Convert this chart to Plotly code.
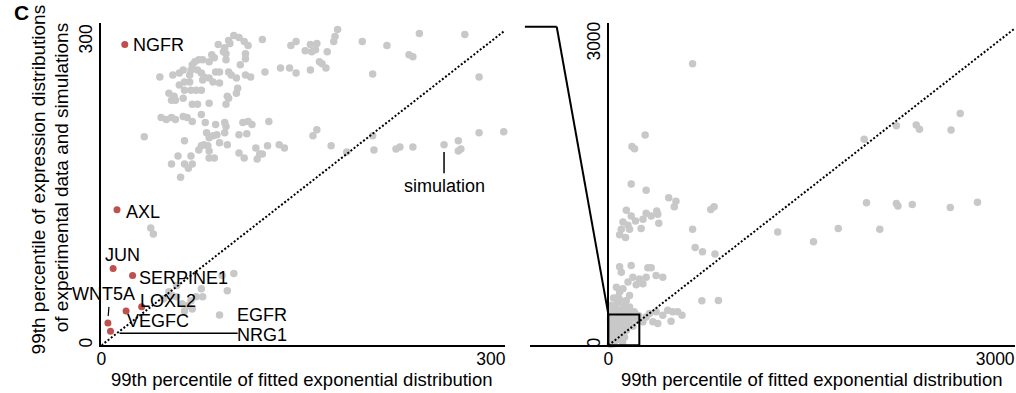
import plotly.graph_objects as go

# ---------------- data ----------------
# Left panel: 99th percentile, fitted exponential (x) vs. observed/simulated (y)
left_x = [102, 106, 110, 98, 99, 113, 124, 90, 95, 96, 94, 85, 83, 87, 75, 78, 72, 70, 69, 68,
          74, 63, 60, 55, 45, 96, 107, 111, 111, 88, 91, 98, 100, 104, 111, 115, 83, 79, 86, 91,
          77, 78, 64, 60, 68, 69, 73, 77, 64, 52, 56, 57, 54, 63, 70, 74, 83, 96, 97, 98,
          104, 105, 126, 138, 145, 150, 161, 146, 150, 157, 161, 166, 162, 168, 170, 173,
          46, 50, 54, 57, 63, 66, 70, 77, 80, 88, 95, 96, 109, 113, 116, 129,
          33, 64, 81, 83, 86, 89, 91, 95, 106, 112, 97, 77, 79, 82, 83, 75, 83, 87, 59, 69,
          54, 64, 67, 70, 61, 106, 110, 119, 120, 122, 124, 128, 137, 141, 163, 166,
          182, 180, 179, 165, 174, 201, 220, 245, 280, 237, 240, 209, 291, 209, 177, 189,
          210, 227, 230, 240, 264, 275, 275, 277, 291, 310,
          38, 40, 102, 93, 97, 55, 58, 62, 66, 69, 73, 78, 70, 64, 77, 58, 48, 52, 91]
left_y = [306, 304, 300, 301, 298, 296, 302, 297, 294, 288, 290, 287, 280, 284, 282, 282, 280, 277, 272, 267,
          272, 272, 269, 267, 265, 282, 277, 283, 288, 270, 270, 270, 267, 264, 267, 265, 264, 265, 260, 259,
          269, 262, 260, 257, 260, 252, 252, 252, 252, 249, 246, 242, 242, 244, 238, 238, 239, 238, 246, 244,
          249, 254, 270, 274, 274, 269, 272, 296, 300, 291, 297, 298, 290, 280, 278, 274,
          225, 223, 225, 223, 226, 225, 221, 228, 220, 218, 220, 216, 220, 221, 218, 221,
          206, 202, 210, 205, 207, 208, 200, 210, 208, 209, 198, 197, 198, 197, 192, 193, 185, 185, 187, 187,
          179, 179, 175, 179, 166, 190, 185, 195, 184, 189, 189, 197, 198, 195, 207, 213,
          312, 305, 300, 292, 290, 300, 296, 308, 307, 287, 285, 268, 265, 207, 197, 191,
          193, 194, 196, 196, 198, 202, 192, 194, 210, 211,
          116, 110, 71, 69, 54, 49, 48, 41, 39, 44, 48, 48, 36, 34, 56, 59, 46, 53, 30]

# Highlighted genes
genes = ["NGFR", "AXL", "JUN", "SERPINE1", "LOXL2", "VEGFC", "WNT5A", "NRG1"]
gene_x = [18, 12, 9, 24, 31, 19, 5, 7]
gene_y = [297, 134, 76, 69, 38, 34, 22, 14]

# Right panel: full range of the same comparison
right_x = [653, 285, 183, 203, 177, 293, 468, 524, 511, 794, 820, 139, 177, 210, 113, 152, 100, 164,
           87, 133, 268, 293, 332, 375, 383, 254, 391, 653, 673, 730, 827, 1313, 87, 100, 177, 306,
           332, 190, 241, 293, 370, 422, 152, 216, 268, 62, 87, 113, 164, 75, 139, 725, 853, 113,
           164, 318, 370, 422, 460, 499, 537, 571, 345, 383, 486, 293, 268,
           1984, 2234, 2388, 2413, 2658, 2729, 2002, 2234, 2246, 2357, 2652, 2863, 1783, 2105, 1591,
           20, 45, 70, 95, 120, 150, 180, 210, 235, 15, 40, 65, 90, 115, 140, 170, 200, 225,
           25, 50, 80, 105, 130, 160, 190, 20, 55, 85, 110, 140, 30, 60, 95, 125, 20, 50, 80,
           110, 40, 15, 30, 60, 100, 150, 200, 20, 70, 120, 40, 90]
right_y = [2801, 2093, 1977, 1955, 1606, 1543, 1468, 1434, 1379, 1352, 1379, 1343, 1286, 1237, 1227,
           1194, 1155, 1155, 1099, 1073, 1254, 1313, 1286, 1336, 1303, 1162, 1214, 1155, 974, 931,
           908, 1128, 783, 728, 793, 773, 773, 678, 661, 678, 694, 678, 629, 602, 612, 579, 530,
           563, 497, 481, 447, 444, 447, 365, 382, 316, 333, 299, 348, 333, 333, 299, 234, 217,
           240, 283, 234,
           2050, 2185, 2192, 2149, 2142, 2307, 1419, 1412, 1385, 1402, 1372, 1424, 1162, 1155, 1030,
           300, 290, 310, 295, 305, 290, 300, 310, 295, 260, 250, 270, 245, 265, 240, 255, 270, 250,
           210, 190, 215, 200, 180, 205, 190, 150, 140, 160, 130, 150, 100, 90, 110, 80, 50, 40, 60,
           30, 15, 10, 340, 360, 350, 345, 335, 400, 420, 390, 470, 450]

# Axis extents and ticks
left_xmax, left_ymax = 311, 318.5
right_xmin, right_xmax, right_ymax = -609, 3154, 3208
left_ticks = [0, 300]
right_ticks = [0, 3000]
zoom_box = (240, 306)  # extent of the left panel, drawn inside the right panel

# ---------------- styling ----------------
W, H = 1016, 393
FONT = "Liberation Sans, Arial, sans-serif"
GRAY = "#c8c8c8"
RED = "#c0504d"


def fx(p):
    return p / W


def fy(p):
    return 1 - p / H


fig = go.Figure()

# left panel
fig.add_trace(go.Scatter(x=left_x, y=left_y, mode="markers", xaxis="x", yaxis="y",
                         marker=dict(color=GRAY, size=7.5), hoverinfo="skip", cliponaxis=False))
fig.add_trace(go.Scatter(x=[0, left_xmax], y=[0, left_xmax], mode="lines", xaxis="x", yaxis="y",
                         line=dict(color="black", width=2, dash="2px,2px"), hoverinfo="skip"))
fig.add_trace(go.Scatter(x=gene_x, y=gene_y, mode="markers", xaxis="x", yaxis="y",
                         marker=dict(color=RED, size=7), hoverinfo="skip", cliponaxis=False))
# pointer lines: NRG1, simulation, WNT5A
fig.add_trace(go.Scatter(x=[14, 105], y=[12, 12], mode="lines", xaxis="x", yaxis="y",
                         line=dict(color="black", width=1.5), hoverinfo="skip"))
fig.add_trace(go.Scatter(x=[264, 264], y=[170, 191], mode="lines", xaxis="x", yaxis="y",
                         line=dict(color="black", width=1.5), hoverinfo="skip"))
fig.add_trace(go.Scatter(x=[5.8, 5.2], y=[38, 29], mode="lines", xaxis="x", yaxis="y",
                         line=dict(color="black", width=1.2), hoverinfo="skip"))

# right panel
fig.add_trace(go.Scatter(x=right_x, y=right_y, mode="markers", xaxis="x2", yaxis="y2",
                         marker=dict(color=GRAY, size=7.5), hoverinfo="skip", cliponaxis=False))
fig.add_trace(go.Scatter(x=[0, right_xmax], y=[0, right_xmax], mode="lines", xaxis="x2", yaxis="y2",
                         line=dict(color="black", width=2, dash="2px,2px"), hoverinfo="skip"))

ydom = [fy(347), fy(22)]
axis_common = dict(showline=True, linewidth=2, linecolor="black", showgrid=False, zeroline=False,
                   ticks="", tickfont=dict(family=FONT, size=17.5, color="black"))

fig.update_layout(
    width=W, height=H, margin=dict(l=0, r=0, t=0, b=0),
    paper_bgcolor="white", plot_bgcolor="white", showlegend=False,
    font=dict(family=FONT, color="black"),
    xaxis=dict(domain=[fx(97), fx(503)], range=[0, left_xmax], anchor="y", ticklabelstandoff=-3,
               tickvals=left_ticks, ticktext=[str(t) for t in left_ticks], **axis_common),
    yaxis=dict(domain=ydom, range=[0, left_ymax], anchor="x", tickangle=-90,
               tickvals=left_ticks, ticktext=[str(t) for t in left_ticks], **axis_common),
    xaxis2=dict(domain=[fx(528), 1.0], range=[right_xmin, right_xmax], anchor="y2", ticklabelstandoff=-3,
                tickvals=right_ticks, ticktext=[str(t) for t in right_ticks], **axis_common),
    yaxis2=dict(domain=ydom, range=[0, right_ymax], anchor="free", position=fx(607), tickangle=-90,
                tickvals=right_ticks, ticktext=[str(t) for t in right_ticks], **axis_common),
)

shapes = [
    dict(type="rect", xref="x2", yref="y2", x0=0, y0=0, x1=zoom_box[0], y1=zoom_box[1],
         line=dict(color="black", width=2)),
    dict(type="line", xref="paper", yref="paper", x0=fx(523), y0=fy(26), x1=fx(555), y1=fy(26),
         line=dict(color="black", width=2)),
    dict(type="line", xref="paper", yref="paper", x0=fx(555), y0=fy(26), x1=fx(607), y1=fy(316),
         line=dict(color="black", width=2)),
]
fig.update_layout(shapes=shapes)

LBL = dict(family=FONT, size=18, color="black")
TITLE = dict(family=FONT, size=19, color="black")
XTITLE = dict(family=FONT, size=18.5, color="black")
annotations = []
# gene label placement: xanchor, xshift, yshift (pixels from the point)
label_pos = {
    "NGFR": ("left", 6, 0),
    "AXL": ("left", 7, -2),
    "JUN": ("center", 9, 13),
    "SERPINE1": ("left", 4, -3),
    "LOXL2": ("left", -4, 6),
    "VEGFC": ("left", -1, -10),
    "WNT5A": ("center", -4, 29),
    "NRG1": ("left", -3, -2),
}
for g, gx, gy in zip(genes, gene_x, gene_y):
    xa, xs, ys = label_pos[g]
    ax_x, ax_y = (105, 12) if g == "NRG1" else (gx, gy)
    annotations.append(dict(x=ax_x, y=ax_y, xref="x", yref="y", text=g, showarrow=False,
                            xanchor=xa, yanchor="middle", xshift=xs, yshift=ys, font=LBL))
annotations.append(dict(x=91, y=30, xref="x", yref="y", text="EGFR", showarrow=False,
                        xanchor="left", yanchor="middle", xshift=15, font=LBL))
annotations.append(dict(x=264, y=157, xref="x", yref="y", text="simulation", showarrow=False,
                        xanchor="center", yanchor="middle", font=LBL))

# axis titles
xtitle = "99th percentile of fitted exponential distribution"
annotations.append(dict(x=fx(299), y=fy(381), xref="paper", yref="paper", text=xtitle,
                        showarrow=False, xanchor="center", yanchor="middle", font=XTITLE))
annotations.append(dict(x=fx(812), y=fy(381), xref="paper", yref="paper", text=xtitle,
                        showarrow=False, xanchor="center", yanchor="middle", font=XTITLE))
annotations.append(dict(x=fx(34), y=fy(180), xref="paper", yref="paper",
                        text="99th percentile of expression distributions", textangle=-90,
                        showarrow=False, xanchor="center", yanchor="middle", font=TITLE))
annotations.append(dict(x=fx(57), y=fy(178), xref="paper", yref="paper",
                        text="of experimental data and simulations", textangle=-90,
                        showarrow=False, xanchor="center", yanchor="middle", font=TITLE))
# panel letter
annotations.append(dict(x=fx(7), y=fy(12), xref="paper", yref="paper", text="<b>C</b>",
                        showarrow=False, xanchor="left", yanchor="middle",
                        font=dict(family=FONT, size=21, color="black")))
fig.update_layout(annotations=annotations)

fig.write_html("out.html")
